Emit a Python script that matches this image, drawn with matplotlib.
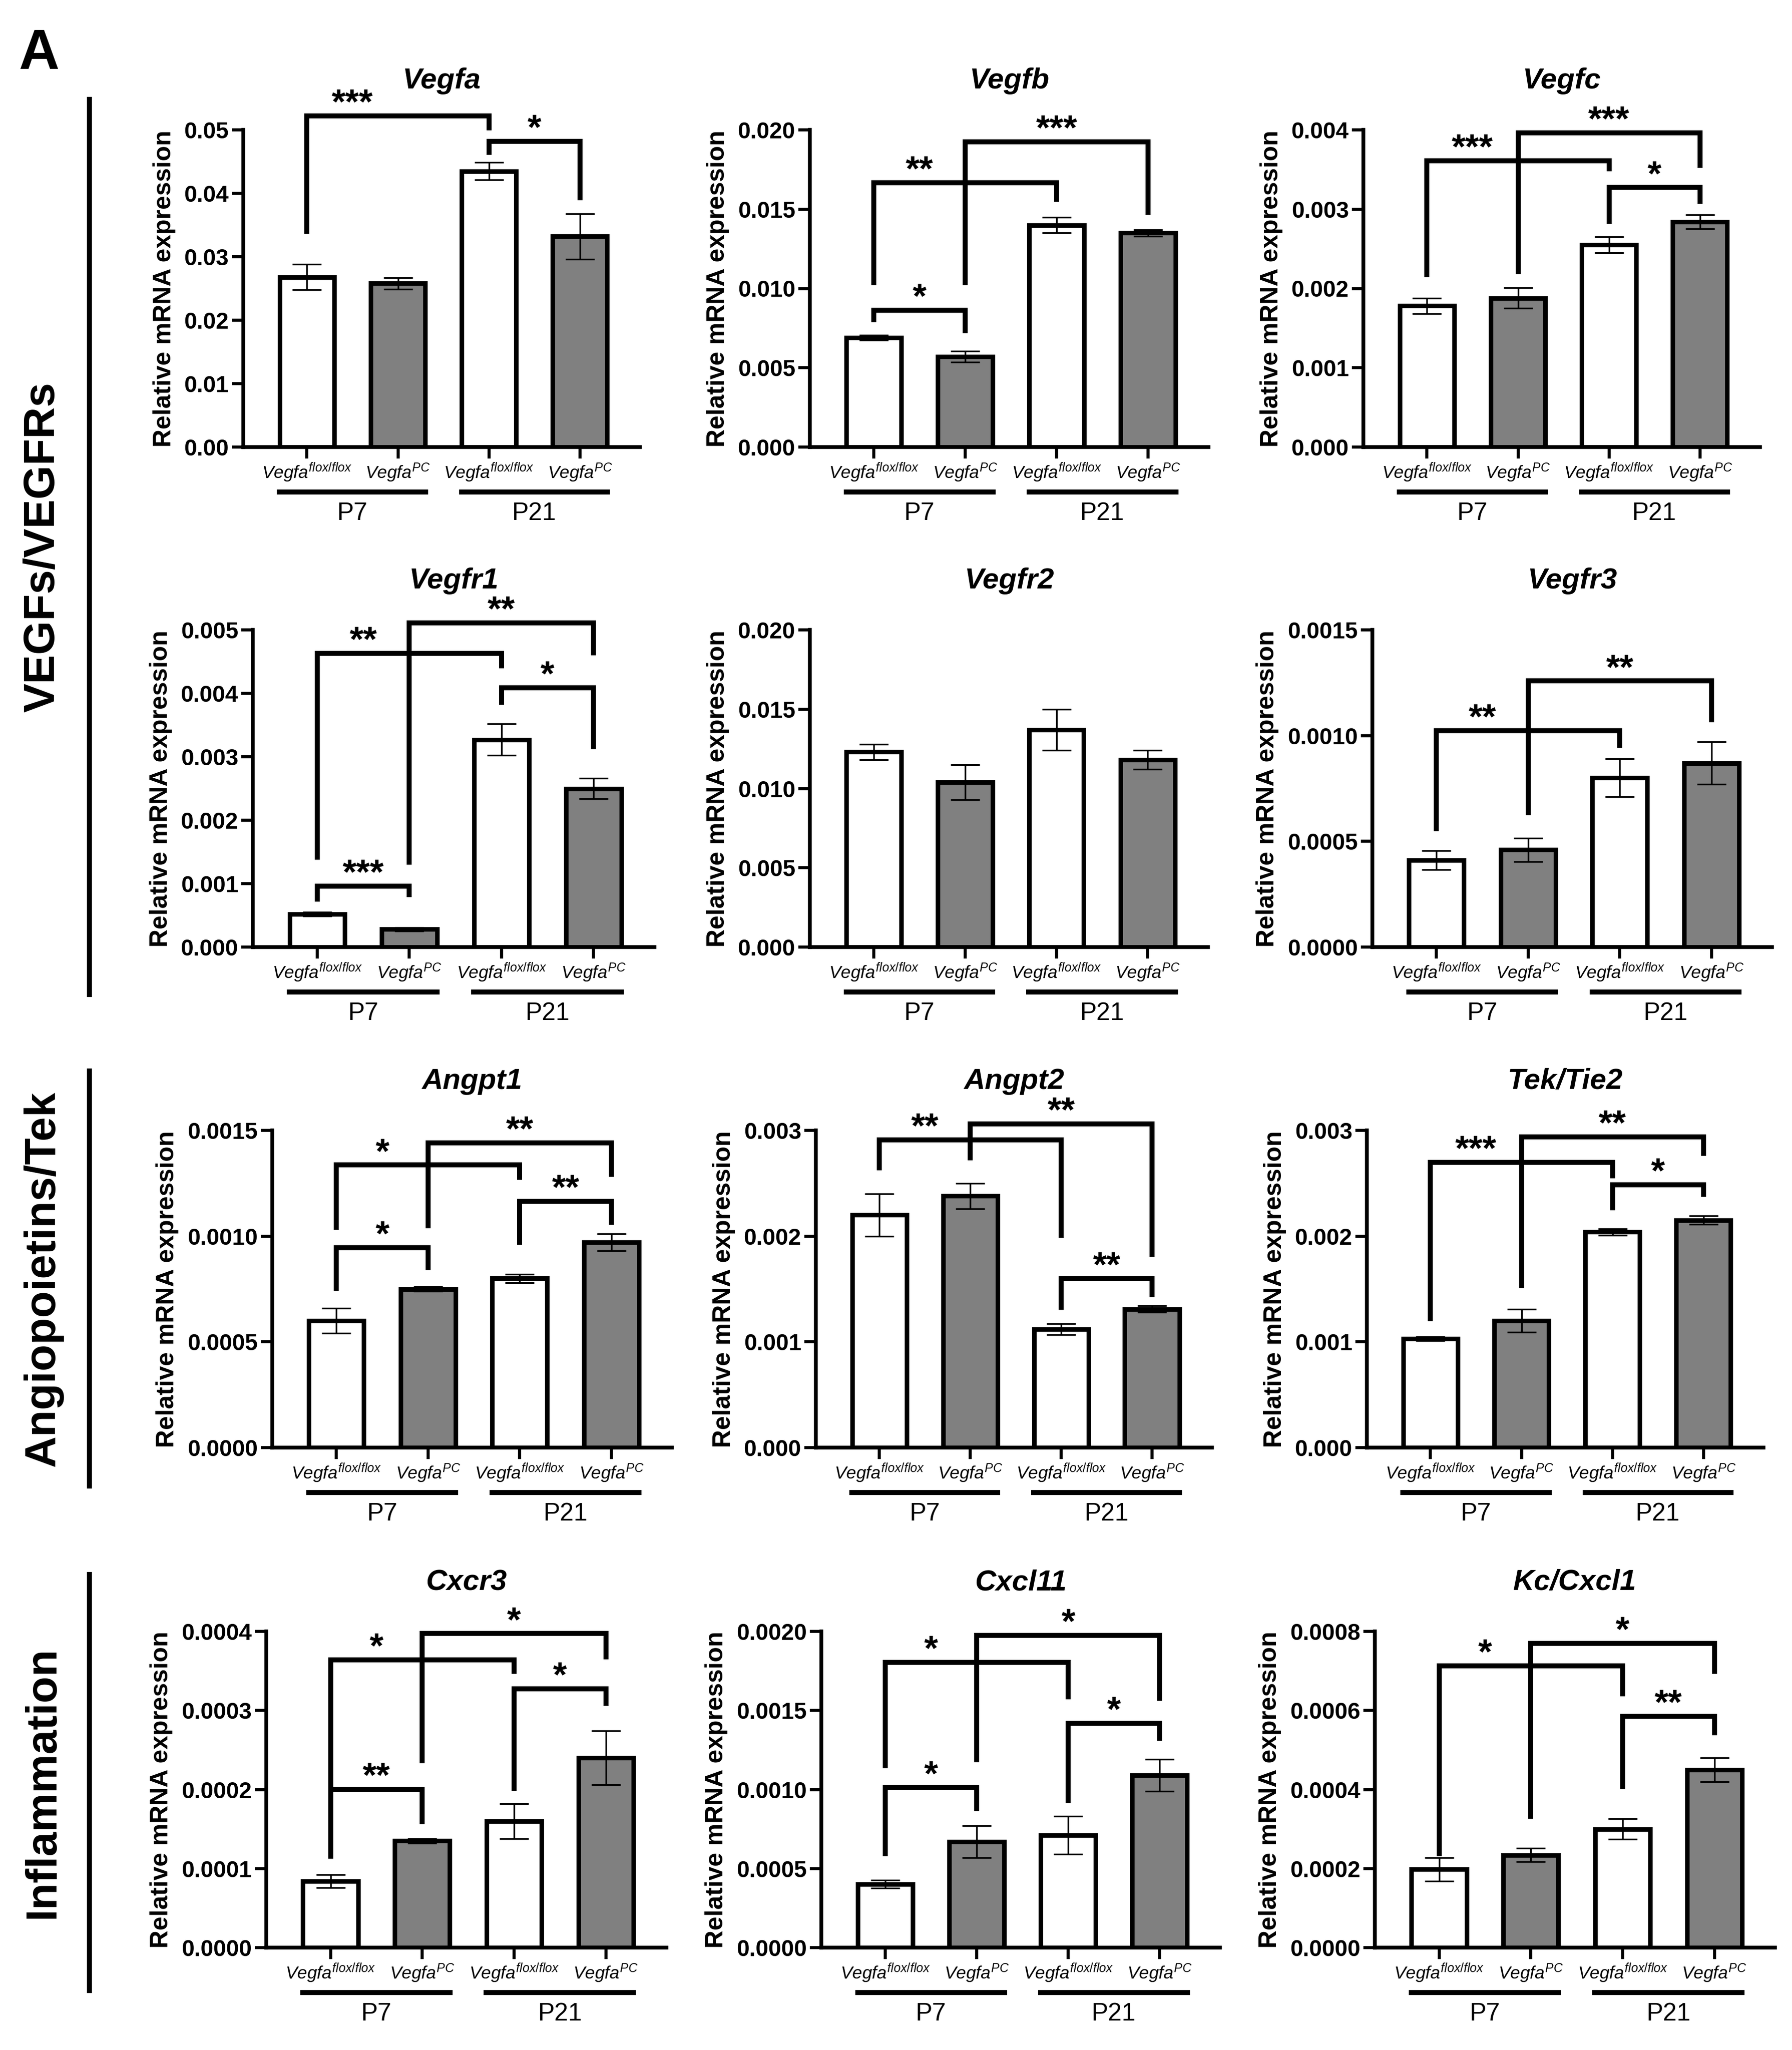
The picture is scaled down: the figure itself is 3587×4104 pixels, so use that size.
import matplotlib
matplotlib.use('Agg')
import matplotlib.pyplot as plt
from matplotlib.lines import Line2D
import numpy as np

plt.rcParams['font.family'] = ['Liberation Sans', 'DejaVu Sans']
plt.rcParams['mathtext.fontset'] = 'custom'
plt.rcParams['mathtext.it'] = 'Liberation Sans:italic'
plt.rcParams['mathtext.rm'] = 'Liberation Sans'
plt.rcParams['mathtext.bf'] = 'Liberation Sans:bold'

# ---- data ----
genes = ['Vegfa', 'Vegfb', 'Vegfc',
         'Vegfr1', 'Vegfr2', 'Vegfr3',
         'Angpt1', 'Angpt2', 'Tek/Tie2',
         'Cxcr3', 'Cxcl11', 'Kc/Cxcl1']
groups = [r'$\mathit{Vegfa}^{\mathit{flox/flox}}$', r'$\mathit{Vegfa}^{\mathit{PC}}$',
          r'$\mathit{Vegfa}^{\mathit{flox/flox}}$', r'$\mathit{Vegfa}^{\mathit{PC}}$']
ages = ['P7', 'P21']
sections = ['VEGFs/VEGFRs', 'Angiopoietins/Tek', 'Inflammation']

means = [
    [0.0268, 0.0258, 0.0435, 0.0332],
    [0.0069, 0.0057, 0.0140, 0.0135],
    [0.00178, 0.00188, 0.00255, 0.00284],
    [0.00052, 0.00028, 0.00327, 0.00250],
    [0.0123, 0.0104, 0.0137, 0.0118],
    [0.00041, 0.00046, 0.00080, 0.00087],
    [0.00060, 0.00075, 0.00080, 0.00097],
    [0.00220, 0.00238, 0.00112, 0.00131],
    [0.00103, 0.00120, 0.00204, 0.00215],
    [0.000084, 0.000135, 0.000160, 0.000240],
    [0.00040, 0.00067, 0.00071, 0.00109],
    [0.000198, 0.000234, 0.000300, 0.000450],
]
sems = [
    [0.0020, 0.0009, 0.0014, 0.0036],
    [0.00015, 0.00035, 0.0005, 0.0002],
    [0.00010, 0.00013, 0.00010, 0.00009],
    [0.00003, 0.00003, 0.00025, 0.00016],
    [0.0005, 0.0011, 0.0013, 0.0006],
    [0.000045, 0.000055, 0.00009, 0.00010],
    [0.00006, 0.00001, 0.00002, 0.00004],
    [0.00020, 0.00012, 0.00005, 0.00003],
    [0.00002, 0.00011, 0.00003, 0.00004],
    [0.000008, 0.000003, 0.000022, 0.000034],
    [0.000025, 0.00010, 0.00012, 0.00010],
    [0.00003, 0.000017, 0.000026, 0.00003],
]
ymax = [0.05, 0.020, 0.004, 0.005, 0.020, 0.0015,
        0.0015, 0.003, 0.003, 0.0004, 0.0020, 0.0008]
ystep = [0.01, 0.005, 0.001, 0.001, 0.005, 0.0005,
         0.0005, 0.001, 0.001, 0.0001, 0.0005, 0.0002]
decimals = [2, 3, 3, 3, 3, 4, 4, 3, 3, 4, 4, 4]

# (bar a, bar b, bracket height, left leg end, right leg end, stars)
brackets = [
    [(0, 2, 0.0522, 0.0336, 0.0499, '***'), (2, 3, 0.0482, 0.0461, 0.0389, '*')],
    [(0, 1, 0.00863, 0.00788, 0.00717, '*'), (0, 2, 0.01667, 0.0102, 0.01545, '**'),
     (1, 3, 0.01925, 0.0102, 0.01465, '***')],
    [(2, 3, 0.003273, 0.002816, 0.00307, '*'), (0, 2, 0.003612, 0.00214, 0.003475, '***'),
     (1, 3, 0.00396, 0.00218, 0.00352, '***')],
    [(0, 1, 0.00096, 0.000717, 0.00079, '***'), (2, 3, 0.004086, 0.00382, 0.00312, '*'),
     (0, 2, 0.00463, 0.00138, 0.00439, '**'), (1, 3, 0.00511, 0.0013, 0.0046, '**')],
    [],
    [(0, 2, 0.001023, 0.000548, 0.000942, '**'), (1, 3, 0.001258, 0.000624, 0.001064, '**')],
    [(0, 1, 0.000944, 0.000742, 0.000838, '*'), (2, 3, 0.001164, 0.000959, 0.001053, '**'),
     (0, 2, 0.001336, 0.00103, 0.001265, '*'), (1, 3, 0.001442, 0.001038, 0.00128, '**')],
    [(2, 3, 0.001597, 0.001303, 0.001424, '**'), (0, 2, 0.002909, 0.002621, 0.001985, '**'),
     (1, 3, 0.003061, 0.002718, 0.001803, '**')],
    [(2, 3, 0.002485, 0.002242, 0.002373, '*'), (0, 2, 0.002697, 0.001197, 0.002545, '***'),
     (1, 3, 0.002939, 0.001506, 0.002758, '**')],
    [(0, 1, 0.0002006, 0.0001127, 0.000156, '**'), (2, 3, 0.0003275, 0.0001986, 0.000306, '*'),
     (0, 2, 0.000364, 0.0001127, 0.0003465, '*'), (1, 3, 0.0003972, 0.000233, 0.0003647, '*')],
    [(0, 1, 0.001013, 0.000578, 0.000861, '*'), (2, 3, 0.001418, 0.000912, 0.001307, '*'),
     (0, 2, 0.001803, 0.001135, 0.00157, '*'), (1, 3, 0.001976, 0.001171, 0.00156, '*')],
    [(2, 3, 0.0005852, 0.0004012, 0.0005366, '**'), (0, 2, 0.0007133, 0.000231, 0.0006363, '*'),
     (1, 3, 0.00077, 0.0003258, 0.000693, '*')],
]

# ---- layout (pixels in the 3587x4104 output) ----
W, H = 3587, 4104
row_px = [(260, 895), (1261, 1896), (2263, 2898), (3266, 3899)]
col_px = [
    [(487, 1281), (1621, 2419), (2729, 3523)],
    [(506, 1310), (1621, 2418), (2747, 3547)],
    [(545, 1345), (1633, 2426), (2736, 3530)],
    [(533, 1334), (1644, 2442), (2752, 3553)],
]
section_lines = [(199, 1991), (2144, 2975), (3152, 3985)]
bar_colors = ['white', '#808080', 'white', '#808080']

fig = plt.figure(figsize=(W / 300, H / 300), dpi=300)
x = np.arange(4)

for k, gene in enumerate(genes):
    r, c = divmod(k, 3)
    top, bot = row_px[r]
    left, right = col_px[r][c]
    hpx = bot - top
    ax = fig.add_axes([left / W, 1 - bot / H, (right - left) / W, hpx / H])

    ax.bar(x, means[k], width=0.6, color=bar_colors, edgecolor='black',
           linewidth=2.2, zorder=2)
    ax.errorbar(x, means[k], yerr=sems[k], fmt='none', ecolor='black',
                elinewidth=0.8, capsize=7, capthick=0.8, zorder=3)

    ax.set_xlim(-0.7, 3.66)
    ax.set_ylim(0, ymax[k])
    ticks = np.arange(0, ymax[k] + ystep[k] / 2, ystep[k])
    ax.set_yticks(ticks, labels=[f'{t:.{decimals[k]}f}' for t in ticks],
                  fontsize=11, fontweight='bold')
    ax.set_xticks(x, labels=groups, fontsize=8.5)
    ax.tick_params(axis='both', direction='out', length=5.5, width=1.5, pad=1.5)
    ax.spines[['top', 'right']].set_visible(False)
    for s in ['left', 'bottom']:
        ax.spines[s].set_linewidth(1.8)
    ax.set_ylabel('Relative mRNA expression', fontsize=12, fontweight='bold', labelpad=4)

    ax.text(0.5, 1 + 83 / hpx, gene, transform=ax.transAxes, ha='center',
            va='baseline', fontsize=14, fontweight='bold', style='italic')

    # age group underlines and labels
    trans = ax.get_xaxis_transform()
    for g, age in enumerate(ages):
        x0 = 2 * g
        ax.plot([x0 - 0.33, x0 + 1.33], [-90 / hpx] * 2, transform=trans,
                clip_on=False, lw=2.4, color='black', solid_capstyle='butt')
        ax.text(x0 + 0.5, -146 / hpx, age, transform=trans, ha='center',
                va='baseline', fontsize=12)

    # significance brackets
    for (a, b, yt, yl, yr, stars) in brackets[k]:
        ax.plot([a, a, b, b], [yl, yt, yt, yr], color='black', lw=2.4,
                clip_on=False, solid_joinstyle='miter', solid_capstyle='butt', zorder=4)
        sx = 0.5 if (a, b) == (0, 2) else (a + b) / 2
        ax.annotate(stars, (sx, yt), xytext=(0, 1), textcoords='offset points',
                    ha='center', va='baseline', fontsize=17, fontweight='bold',
                    annotation_clip=False)

# section markers on the left
for (y0, y1), name in zip(section_lines, sections):
    fig.add_artist(Line2D([179 / W, 179 / W], [1 - y0 / H, 1 - y1 / H],
                          transform=fig.transFigure, lw=2.4, color='black'))
    fig.text(86 / W, 1 - (y0 + y1) / 2 / H, name, rotation=90, ha='center',
             va='center', fontsize=21, fontweight='bold')

fig.text(37 / W, 1 - 138 / H, 'A', ha='left', va='baseline', fontsize=27,
         fontweight='bold')

fig.savefig('out.png', dpi=300)
